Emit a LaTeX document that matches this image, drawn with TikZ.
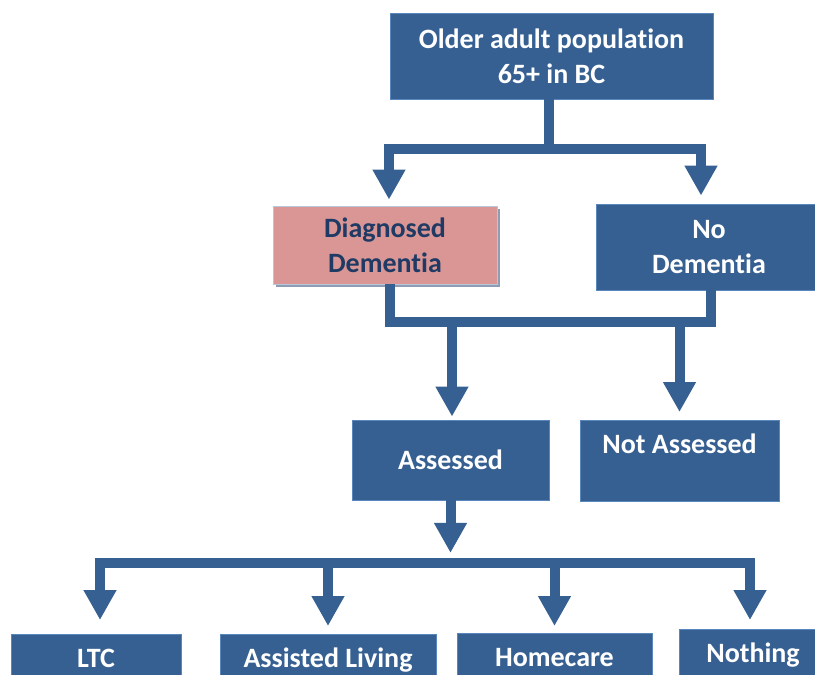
\documentclass[tikz,border=0pt]{standalone}
\usepackage{fontspec}
\setmainfont[Ligatures={NoCommon}]{Carlito}
\usetikzlibrary{arrows.meta,shadows}
\definecolor{boxblue}{HTML}{376092}
\definecolor{edgeblue}{HTML}{5A86BE}
\definecolor{pinkfill}{HTML}{D99694}
\definecolor{pinkedge}{HTML}{B9C7DC}
\definecolor{darktext}{HTML}{1F3A64}
\definecolor{shadowgray}{HTML}{8E9CB4}
\begin{document}
\begin{tikzpicture}[x=1pt,y=-1pt,
  box/.style={fill=boxblue, draw=edgeblue, line width=0.8pt, text=white,
    font=\bfseries\fontsize{28}{35}\selectfont, align=center, inner sep=0pt},
  pinkbox/.style={box, fill=pinkfill, draw=pinkedge, text=darktext,
    drop shadow={shadow xshift=3pt, shadow yshift=-3pt, fill=shadowgray, opacity=1}},
  conn/.style={draw=boxblue, line width=10pt, line join=miter},
  arr/.style={conn, -{Triangle[width=31pt,length=30pt]}},
]
\clip (0,0) rectangle (815,675);

% population and diagnosis
\node[box, minimum width=323pt, minimum height=86pt] (top) at (551.5,56) {Older adult population\\65+ in BC};
\node[pinkbox, minimum width=224pt, minimum height=78pt] (diag) at (385,245) {Diagnosed\\Dementia};
\node[box, minimum width=226pt, minimum height=86pt] (nodem) at (709,247) {No\\Dementia};

% assessment
\node[box, minimum width=197pt, minimum height=80pt] (assessed) at (450.5,460) {Assessed};
\node[box, anchor=north, minimum width=199pt, text height=33pt, text depth=48pt] (notass) at (679.5,420) {Not Assessed};

% care settings
\node[box, anchor=north, minimum width=170pt, text height=33pt, text depth=30pt] (ltc) at (96,634) {LTC};
\node[box, anchor=north, minimum width=216pt, text height=33pt, text depth=30pt] (assist) at (328,634) {Assisted Living};
\node[box, anchor=north, minimum width=195pt, text height=33pt, text depth=30pt] (home) at (554.5,633) {Homecare};
\node[box, anchor=north, minimum width=148pt, text height=33.5pt, text depth=30pt] (nothing) at (753,629) {Nothing};

% split of the population
\draw[conn] ([xshift=-3pt]top.south) -- ++(0,50) coordinate (split1);
\draw[arr, shorten >=6pt] (split1) -| ([xshift=4pt]diag.north);
\draw[arr, shorten >=8pt] (split1) -| ([xshift=-8pt]nodem.north);

% both groups merge before assessment
\draw[conn] ([xshift=5pt]diag.south) -- ++(0,38) coordinate (merge) -| ([xshift=2pt]nodem.south);
\draw[arr, shorten >=3pt] ([xshift=1.5pt]merge -| assessed.north) -- ([xshift=1.5pt]assessed.north);
\draw[arr, shorten >=8pt] (merge -| notass.north) -- (notass.north);

% assessed to care settings
\draw[arr, shorten >=10pt] (assessed.south) -- ++(0,62.5) coordinate (split2);
\draw[conn] (split2) -- (split2 -| ltc.north);
\draw[arr, shorten >=14pt] (split2) -| ([xshift=4pt]ltc.north);
\draw[arr, shorten >=8pt] (split2 -| assist.north) -- (assist.north);
\draw[arr, shorten >=7pt] (split2 -| home.north) -- (home.north);
\draw[arr, shorten >=9pt] (split2) -| ([xshift=-3pt]nothing.north);
\end{tikzpicture}
\end{document}
